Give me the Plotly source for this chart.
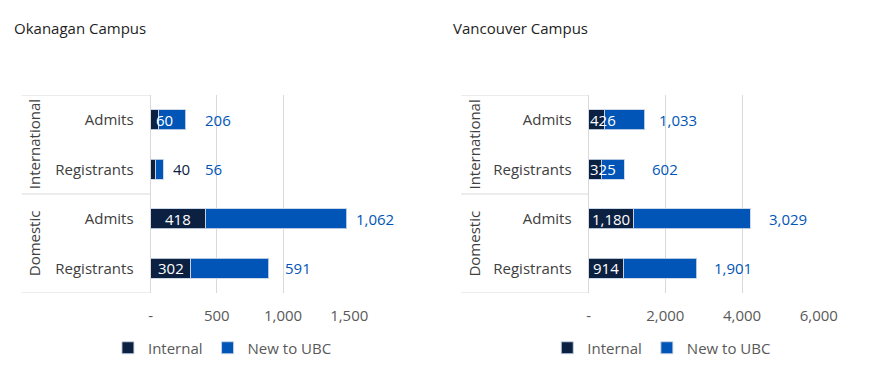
import plotly.graph_objects as go

# ---------------- data ----------------
group_names = ["International", "Domestic"]
groups = ["International", "International", "Domestic", "Domestic"]
stages = ["Admits", "Registrants", "Admits", "Registrants"]

okanagan_internal = [60, 40, 418, 302]
okanagan_new = [206, 56, 1062, 591]
vancouver_internal = [426, 325, 1180, 914]
vancouver_new = [1033, 602, 3029, 1901]

okanagan_ticks = [0, 500, 1000, 1500]
vancouver_ticks = [0, 2000, 4000, 6000]

series_names = ["Internal", "New to UBC"]
panel_titles = ["Okanagan Campus", "Vancouver Campus"]

# label placement (styles, not data)
okanagan_internal_mode = ["base", "end", "center", "center"]
vancouver_internal_mode = ["base", "base", "center", "center"]
okanagan_internal_shift = [3, 8, 0, 0]
vancouver_internal_shift = [-1, -1, 0, 0]
okanagan_new_shift = [17, 40, 7, 14]
vancouver_new_shift = [12, 26, 17, 15]

# ---------------- styles ----------------
OFF = 8           # page body margin of the rendered html
W, H = 856, 360
XSCALE, XOFF = 0.977, 1.4   # observed horizontal mapping of the rendered page
FONT = "Open Sans"
NAVY = "#0c2142"
BLUE = "#0055b7"
GRID = "#d9d9d9"
TXT = "#404040"
TICK = "#595959"


def px(v):
    v = (v - XOFF) / XSCALE
    return (v - OFF) / W


def py(v):
    return (H - (v - OFF)) / H


panels = [
    dict(internal=okanagan_internal, new=okanagan_new, ticks=okanagan_ticks,
         imode=okanagan_internal_mode, ishift=okanagan_internal_shift,
         nshift=okanagan_new_shift, dom=[px(150), px(349)],
         left=21, title_x=13, grp_x=33, leg_x=222, legend="legend"),
    dict(internal=vancouver_internal, new=vancouver_new, ticks=vancouver_ticks,
         imode=vancouver_internal_mode, ishift=vancouver_internal_shift,
         nshift=vancouver_new_shift, dom=[px(588.7), px(819.3)],
         left=461, title_x=453, grp_x=473, leg_x=662, legend="legend2"),
]

ypos = list(range(len(stages)))
fig = go.Figure()
annotations = []
shapes = []
layout = {}

for k, p in enumerate(panels):
    sfx = "" if k == 0 else str(k + 1)
    xa, ya = "x" + sfx, "y" + sfx
    line = dict(color="rgba(200,212,230,0.9)", width=1)
    fig.add_trace(go.Bar(x=p["internal"], y=ypos, orientation="h", name=series_names[0],
                         marker=dict(color=NAVY, line=line), xaxis=xa, yaxis=ya,
                         legend=p["legend"], hoverinfo="x+name"))
    fig.add_trace(go.Bar(x=p["new"], y=ypos, orientation="h", name=series_names[1],
                         marker=dict(color=BLUE, line=line), xaxis=xa, yaxis=ya,
                         legend=p["legend"], hoverinfo="x+name"))

    layout["xaxis" + sfx] = dict(
        domain=p["dom"], anchor=ya, range=[0, p["ticks"][-1]],
        tickvals=p["ticks"],
        ticktext=["-" if t == 0 else f"{t:,}" for t in p["ticks"]],
        showgrid=True, gridcolor=GRID, gridwidth=1, zeroline=False, showline=False,
        ticks="outside", ticklen=9, tickcolor="rgba(0,0,0,0)",
        tickfont=dict(family=FONT, size=15, color=TICK), fixedrange=True,
    )
    layout["yaxis" + sfx] = dict(
        domain=[py(293), py(95)], anchor=xa, range=[len(stages) - 0.5, -0.5],
        tickvals=ypos, ticktext=stages, showgrid=False, zeroline=False,
        showline=True, linecolor=GRID, linewidth=1,
        ticks="outside", ticklen=13, tickcolor="rgba(0,0,0,0)",
        tickfont=dict(family=FONT, size=15, color=TXT), fixedrange=True,
    )

    # group separators and group labels
    bounds = [-0.5]
    for g in group_names:
        idx = [i for i, gg in enumerate(groups) if gg == g]
        bounds.append(max(idx) + 0.5)
        annotations.append(dict(
            x=px(p["grp_x"]), xref="paper", y=(min(idx) + max(idx)) / 2, yref=ya,
            text=g, textangle=-90, showarrow=False, xanchor="center", yanchor="middle",
            font=dict(family=FONT, size=15, color=TXT)))
    for b in bounds:
        shapes.append(dict(type="line", xref="paper", yref=ya,
                           x0=px(p["left"]), x1=p["dom"][0], y0=b, y1=b,
                           line=dict(color=GRID, width=1)))

    # data labels
    for i in ypos:
        iv, nv = p["internal"][i], p["new"][i]
        total = iv + nv
        mode = p["imode"][i]
        if mode == "center":
            annotations.append(dict(x=iv / 2, y=i, xref=xa, yref=ya, text=f"{iv:,}",
                                    showarrow=False, xanchor="center", yanchor="middle",
                                    font=dict(family=FONT, size=15, color="white")))
        elif mode == "base":
            annotations.append(dict(x=0, y=i, xref=xa, yref=ya, text=f"{iv:,}",
                                    showarrow=False, xanchor="left", yanchor="middle",
                                    xshift=p["ishift"][i],
                                    font=dict(family=FONT, size=15, color="white")))
        else:
            annotations.append(dict(x=total, y=i, xref=xa, yref=ya, text=f"{iv:,}",
                                    showarrow=False, xanchor="left", yanchor="middle",
                                    xshift=p["ishift"][i],
                                    font=dict(family=FONT, size=15, color=NAVY)))
        annotations.append(dict(x=total, y=i, xref=xa, yref=ya, text=f"{nv:,}",
                                showarrow=False, xanchor="left", yanchor="middle",
                                xshift=p["nshift"][i],
                                font=dict(family=FONT, size=15, color=BLUE)))

    annotations.append(dict(x=px(p["title_x"]), y=py(28), xref="paper", yref="paper",
                            text=panel_titles[k], showarrow=False, xanchor="left",
                            yanchor="middle", xshift=-2,
                            font=dict(family=FONT, size=15, color="#1e1e1e")))

    layout[p["legend"]] = dict(orientation="h", x=px(p["leg_x"]), xanchor="center",
                               y=py(348), yanchor="middle", bgcolor="rgba(0,0,0,0)",
                               font=dict(family=FONT, size=15, color=TICK),
                               itemwidth=30, traceorder="normal")

fig.update_layout(
    width=W, height=H, margin=dict(l=0, r=0, t=0, b=0),
    paper_bgcolor="white", plot_bgcolor="white",
    barmode="stack", bargap=0.6, showlegend=True,
    annotations=annotations, shapes=shapes,
    font=dict(family=FONT, size=15, color=TXT),
    **layout,
)

fig.write_html("out.html")
